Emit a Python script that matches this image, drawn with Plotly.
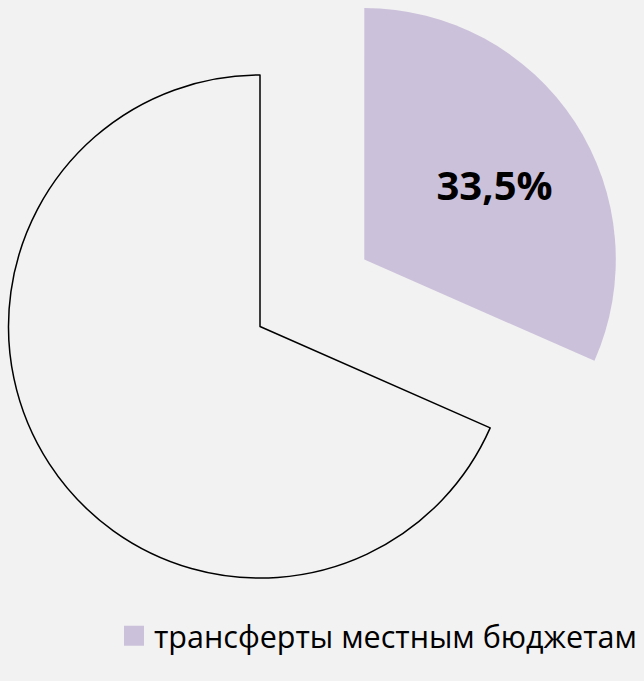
import plotly.graph_objects as go

# ---- data ----
categories = ["трансферты местным бюджетам", "прочие расходы"]
slice_shares = [31.6, 68.4]          # shares
slice_labels = ["33,5%", ""]         # printed data label
legend_label = categories[0]

PURPLE = "#ccc1da"
BG = "#f2f2f2"
W, H = 644, 681
PAD = "\u00a0\u00a0\u00a0"           # nudges the inside label outward

def dom(x0, x1, ytop, ybot):
    return dict(x=[x0 / W, x1 / W], y=[1 - ybot / H, 1 - ytop / H])

fig = go.Figure()

# remaining part (outlined, unfilled)
fig.add_trace(go.Pie(
    labels=categories, values=slice_shares, sort=False, direction="clockwise",
    rotation=0, domain=dom(8.5, 511.5, 75, 578),
    marker=dict(colors=["rgba(0,0,0,0)", "rgba(0,0,0,0)"],
                line=dict(color=["rgba(0,0,0,0)", "black"], width=[0, 1.5])),
    textinfo="none", showlegend=False, hoverinfo="label+value",
))

# exploded slice
fig.add_trace(go.Pie(
    labels=categories, values=slice_shares, sort=False, direction="clockwise",
    rotation=0, domain=dom(112.8, 615.8, 8, 511),
    marker=dict(colors=[PURPLE, "rgba(0,0,0,0)"], line=dict(width=0)),
    text=[(PAD + t) if t else t for t in slice_labels],
    textinfo="text", textposition="inside",
    insidetextorientation="horizontal",
    insidetextfont=dict(family="Open Sans", size=40, color="black", weight="bold"),
    showlegend=False, hoverinfo="label+value",
))

# legend entry
fig.add_trace(go.Scatter(
    x=[None], y=[None], mode="markers", name=legend_label,
    marker=dict(symbol="square", size=16, color=PURPLE,
                line=dict(color=PURPLE, width=4)),
    showlegend=True,
))

fig.update_layout(
    width=W, height=H,
    margin=dict(l=0, r=0, t=0, b=0),
    paper_bgcolor=BG, plot_bgcolor=BG,
    xaxis=dict(visible=False), yaxis=dict(visible=False),
    showlegend=True,
    legend=dict(x=114 / W, xanchor="left", y=1 - 636 / H, yanchor="middle",
                font=dict(family="Open Sans", size=30.5, color="black"),
                bgcolor="rgba(0,0,0,0)", itemwidth=30),
)

fig.write_html(
    "out.html",
    config={"displayModeBar": False},
    post_script="document.body.style.margin='0';"
                "document.body.style.background='#f2f2f2';"
                "document.body.style.overflow='hidden';",
)
